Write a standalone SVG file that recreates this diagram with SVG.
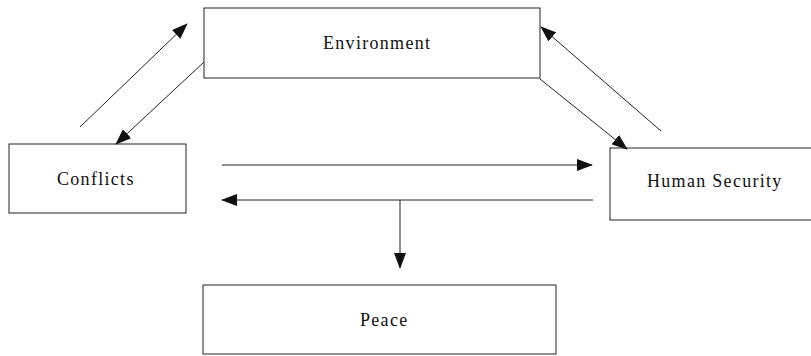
<svg xmlns="http://www.w3.org/2000/svg" width="811" height="356" viewBox="0 0 811 356">
<style>
.box{fill:#fff;stroke:#222;stroke-width:1}
.lbl{font-family:"Liberation Serif","Times New Roman",serif;font-size:18px;letter-spacing:1.3px;fill:#111}
.conn{stroke:#222;stroke-width:1;fill:none;marker-end:url(#ah)}
</style>
<defs>
<marker id="ah" markerWidth="16" markerHeight="12" refX="15" refY="6" orient="auto" markerUnits="userSpaceOnUse">
<path d="M0,0 L16,6 L0,12 Z" fill="#111"/>
</marker>
</defs>
<rect width="811" height="356" fill="#fff"/>
<g id="environment"><rect class="box" x="204" y="8" width="336" height="70"/><text class="lbl" x="323" y="49">Environment</text></g>
<g id="conflicts"><rect class="box" x="9" y="144" width="177" height="69"/><text class="lbl" x="57" y="185">Conflicts</text></g>
<g id="human-security"><rect class="box" x="610" y="148" width="220" height="72"/><text class="lbl" x="647" y="187">Human Security</text></g>
<g id="peace"><rect class="box" x="203" y="285" width="353" height="69"/><text class="lbl" x="360" y="326">Peace</text></g>
<g id="connectors">
<line class="conn" x1="80" y1="127" x2="187" y2="24"/>
<line class="conn" x1="204" y1="62" x2="116" y2="144"/>
<line class="conn" x1="540" y1="79" x2="627" y2="149"/>
<line class="conn" x1="661" y1="131" x2="541" y2="27"/>
<line class="conn" x1="222" y1="165" x2="592" y2="165"/>
<line class="conn" x1="593" y1="200" x2="222" y2="200"/>
<line class="conn" x1="400" y1="200" x2="400" y2="268"/>
</g>
</svg>
